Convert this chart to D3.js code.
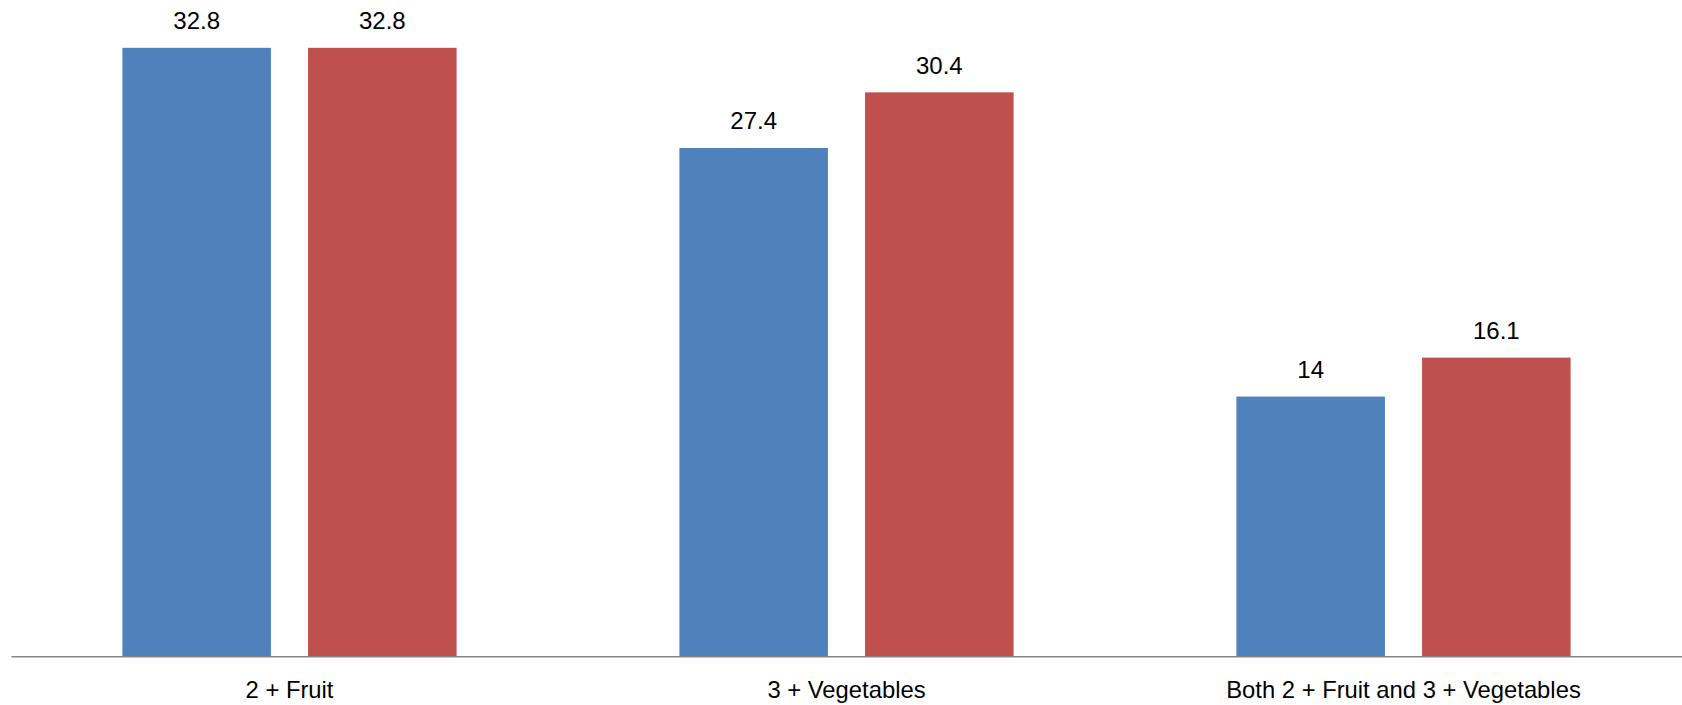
<!DOCTYPE html>
<html>
<head>
<meta charset="utf-8">
<script src="https://cdn.jsdelivr.net/npm/d3@7"></script>
<style>
  html, body { margin: 0; padding: 0; background: #fff; }
  svg { display: block; }
  text { font-family: "Liberation Sans", Arial, sans-serif; fill: #000; }
</style>
</head>
<body>
<svg id="chart" width="1682" height="705"></svg>
<script>
const categories = ["2 + Fruit", "3 + Vegetables", "Both 2 + Fruit and 3 + Vegetables"];
const seriesNames = ["Series A", "Series B"];
const seriesA = [32.8, 27.4, 14];
const seriesB = [32.8, 30.4, 16.1];
const seriesColors = ["#4F81BD", "#C0504D"];

const rows = categories.map((c, i) => ({ cat: c, values: [seriesA[i], seriesB[i]] }));

const plotLeft = 11, plotRight = 1682, plotBaseline = 656.3, plotTop = 7;

const svg = d3.select("#chart");

const x0 = d3.scaleBand().domain(categories).range([plotLeft, plotRight]).paddingInner(0).paddingOuter(0);
const bw = x0.bandwidth();
const x1 = d3.scaleBand().domain(seriesNames).range([bw * 0.2, bw * 0.8]).paddingInner(0.2).paddingOuter(0);
const y = d3.scaleLinear().domain([0, 35]).range([plotBaseline, plotTop]);

const g = svg.selectAll("g.cat").data(rows).enter().append("g")
  .attr("class", "cat")
  .attr("transform", d => `translate(${x0(d.cat)},0)`);

g.selectAll("rect").data(d => d.values.map((v, i) => ({ v, i }))).enter().append("rect")
  .attr("x", d => x1(seriesNames[d.i]))
  .attr("width", x1.bandwidth())
  .attr("y", d => y(d.v))
  .attr("height", d => y(0) - y(d.v))
  .attr("fill", d => seriesColors[d.i]);

g.selectAll("text.val").data(d => d.values.map((v, i) => ({ v, i }))).enter().append("text")
  .attr("class", "val")
  .attr("x", d => x1(seriesNames[d.i]) + x1.bandwidth() / 2)
  .attr("y", d => y(d.v) - 18.5)
  .attr("text-anchor", "middle")
  .style("font-size", "24px")
  .text(d => String(d.v));

// x axis
const xAxis = d3.axisBottom(x0).tickSize(0).tickPadding(0);
const ax = svg.append("g").attr("transform", `translate(0,${plotBaseline})`).call(xAxis);
ax.select(".domain").attr("stroke", "#868686").attr("stroke-width", 1.5);
ax.selectAll(".tick text")
  .attr("dy", null)
  .attr("y", 42)
  .style("font-size", "23.8px")
  .style("font-family", "'Liberation Sans', Arial, sans-serif")
  .attr("fill", "#000");
</script>
</body>
</html>
